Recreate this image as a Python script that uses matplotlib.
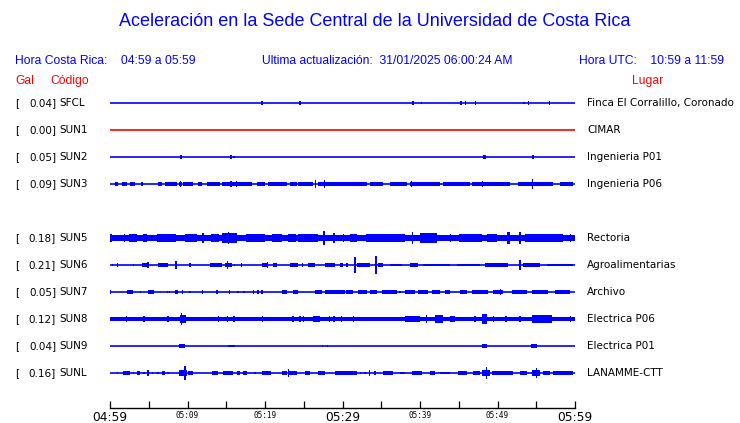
import matplotlib
matplotlib.use("Agg")
import matplotlib.pyplot as plt

# estaciones (fila 4 vacia, no hay SUN4)
codigos = ["SFCL", "SUN1", "SUN2", "SUN3", None, "SUN5", "SUN6", "SUN7", "SUN8", "SUN9", "SUNL"]
gal = [0.04, 0.00, 0.05, 0.09, None, 0.18, 0.21, 0.05, 0.12, 0.04, 0.16]
lugares = ["Finca El Corralillo, Coronado", "CIMAR", "Ingenieria P01", "Ingenieria P06", None,
           "Rectoria", "Agroalimentarias", "Archivo", "Electrica P06", "Electrica P01", "LANAMME-CTT"]

# amplitud de fondo de cada traza
fondo = [0, 0, 0, 0, None, 2.6, 0, 0, 1.9, 0, 0]

# rafagas: (minuto inicio, minuto fin, amplitud)
rafagas = {
    "SFCL": [(19.6, 19.6, 1.5), (24.5, 24.5, 2), (39.0, 39.2, 1.5), (40.2, 40.2, 1), (45.3, 45.3, 2),
             (45.9, 45.9, 1.5), (47.2, 47.2, 1.5), (53.4, 53.4, 1), (54.0, 54.0, 1.5), (56.6, 56.8, 1.5)],
    "SUN1": [],
    "SUN2": [(9.0, 9.3, 1.5), (15.6, 15.6, 1.5), (16.0, 16.0, 1), (48.1, 48.5, 2), (54.5, 54.7, 1.5)],
    "SUN3": [(0.6, 1.0, 1.5), (1.6, 2.2, 1.5), (2.6, 3.2, 1.5), (4.0, 4.3, 1.5), (6.2, 6.7, 1.5),
             (7.1, 8.6, 1.5), (8.9, 9.3, 2), (9.1, 9.1, 3), (9.4, 10.7, 1.5), (11.4, 11.9, 1.5),
             (12.5, 14.2, 1.5), (14.5, 18.3, 2), (15.6, 15.6, 3), (16.3, 16.3, 3), (19.0, 20.0, 1.5),
             (20.4, 22.8, 1.5), (23.2, 24.1, 1.5), (24.3, 26.2, 1.5), (26.5, 26.5, 3.5),
             (26.8, 29.7, 1.5), (27.7, 27.7, 3.5), (30.1, 30.1, 1.5), (29.7, 33.2, 1.7),
             (33.5, 35.2, 1.5), (36.1, 38.3, 1.5), (38.7, 42.6, 1.7), (38.9, 38.9, 2.5),
             (43.0, 46.5, 1.7), (46.7, 51.6, 1.7), (48.1, 48.1, 3), (52.6, 57.2, 1.7),
             (54.5, 54.5, 4.5), (58.1, 59.8, 1.5)],
    "SUN5": [(0.0, 0.3, 4), (1.9, 1.9, 4), (4.3, 4.8, 4), (9.7, 11.2, 4), (12.0, 12.0, 4.5),
             (14.5, 16.4, 4.5), (15.3, 15.3, 5), (20.9, 22.2, 4), (24.3, 26.8, 4), (27.6, 27.6, 6.5),
             (28.9, 28.9, 4.5), (30.1, 30.1, 3.5), (31.0, 31.9, 4), (39.0, 39.0, 5.5),
             (40.0, 42.2, 4.5), (43.9, 43.9, 4), (48.6, 49.9, 4), (51.2, 51.6, 5), (52.9, 52.9, 5),
             (59.4, 59.4, 4), (2.5, 3.5, 3.3), (6.0, 8.5, 3.3), (13.0, 14.0, 3.3), (17.5, 20.0, 3.3),
             (23.0, 24.0, 3.3), (33.0, 38.0, 3.3), (45.0, 48.0, 3.3), (53.5, 58.5, 3.3)],
    "SUN6": [(0.3, 0.3, 1), (0.9, 1.0, 1.5), (3.0, 3.0, 1), (4.1, 4.8, 1.5), (4.9, 4.9, 3),
             (6.2, 7.5, 1.5), (8.5, 8.5, 3.2), (10.3, 10.3, 1.5), (12.9, 14.5, 1.5), (14.8, 15.7, 2),
             (15.2, 15.2, 3.3), (16.1, 16.1, 1), (17.0, 17.0, 1.5), (19.6, 20.4, 1.5), (20.3, 20.3, 2.5),
             (21.0, 21.5, 1.5), (23.2, 24.3, 1.5), (24.8, 24.8, 1.5), (25.5, 26.5, 1.5),
             (27.7, 29.0, 1.5), (29.7, 30.1, 1.5), (30.6, 30.6, 1.5), (31.6, 31.6, 6.8),
             (31.9, 33.5, 1.5), (34.3, 34.3, 8), (34.6, 35.2, 1.5), (36.1, 37.7, 1),
             (38.7, 39.7, 1.5), (40.4, 43.9, 1), (44.8, 47.7, 1), (48.4, 51.4, 1.5),
             (52.9, 52.9, 4.5), (53.3, 55.5, 1.5), (56.4, 59.7, 1)],
    "SUN7": [(0.1, 0.1, 1.5), (2.2, 3.0, 1.5), (3.9, 3.9, 1), (4.9, 5.7, 1.5), (7.4, 7.4, 1),
             (7.7, 7.7, 1), (8.4, 8.8, 1.5), (9.3, 9.4, 1.5), (10.3, 10.3, 1), (11.9, 11.9, 1.5),
             (13.8, 13.8, 1.5), (15.4, 15.4, 1.5), (16.5, 16.5, 1), (17.3, 17.3, 1), (18.5, 18.5, 1.5),
             (19.1, 19.1, 1.5), (19.6, 19.6, 1.5), (22.2, 22.8, 1.5), (23.6, 24.3, 1.5),
             (26.5, 27.4, 1.5), (27.7, 30.3, 1.5), (30.5, 31.4, 1.5), (32.0, 33.2, 1.5),
             (33.5, 34.5, 1.5), (35.1, 37.0, 1.5), (37.4, 37.4, 1), (38.1, 39.4, 1.5),
             (39.7, 41.0, 1.5), (41.5, 42.6, 1.5), (43.2, 43.9, 1.5), (45.2, 46.1, 1.5),
             (46.7, 48.8, 1.5), (49.4, 50.7, 1.5), (50.4, 50.4, 2.5), (51.9, 53.8, 1.5),
             (54.5, 56.5, 1.5), (57.4, 59.4, 1.5)],
    "SUN8": [(2.1, 2.1, 3), (4.4, 4.4, 2.5), (7.5, 7.5, 3), (9.0, 9.8, 4), (9.2, 9.2, 5),
             (14.0, 14.0, 2.5), (15.2, 15.2, 3), (16.0, 16.0, 2.5), (19.7, 19.7, 2.5),
             (23.6, 23.6, 2.5), (24.5, 24.5, 3), (25.0, 25.0, 2.5), (26.2, 27.1, 3), (28.3, 28.3, 3),
             (28.9, 28.9, 3), (29.9, 29.9, 2.5), (31.4, 31.4, 2.5), (38.1, 40.0, 3), (40.8, 40.8, 3.5),
             (41.9, 43.0, 3.5), (43.9, 44.5, 3), (47.1, 47.1, 2.5), (48.0, 48.6, 4.5),
             (49.5, 49.5, 3), (51.1, 51.1, 3), (52.9, 52.9, 3), (54.5, 57.0, 3.5), (54.6, 54.6, 4),
             (59.4, 59.4, 2.5)],
    "SUN9": [(8.9, 9.7, 1.5), (15.2, 16.1, 1), (27.4, 27.4, 1), (28.1, 28.1, 1),
             (48.0, 48.6, 1.5), (54.3, 55.1, 1.5)],
    "SUNL": [(1.0, 1.0, 1), (1.7, 2.6, 1.5), (3.0, 3.0, 1), (3.5, 3.9, 1.5), (4.4, 4.4, 1),
             (4.9, 4.9, 2.5), (5.5, 5.5, 1), (6.2, 6.2, 1), (6.7, 7.1, 1.5), (7.5, 7.5, 1),
             (8.9, 9.9, 3), (9.7, 9.7, 6.5), (10.1, 10.7, 1.5), (13.2, 13.9, 1.5), (14.6, 15.9, 1.5),
             (16.4, 16.8, 1.5), (17.2, 17.7, 1.5), (18.7, 18.7, 1), (19.6, 20.8, 1.5),
             (22.2, 22.8, 1.5), (23.0, 23.0, 3.5), (23.0, 24.1, 2), (25.2, 25.8, 1.5),
             (26.8, 27.7, 1.5), (29.0, 30.3, 1.5), (29.7, 31.9, 1.5), (32.3, 32.3, 1),
             (32.9, 32.9, 1), (33.5, 33.5, 2.5), (34.2, 34.2, 1.5), (35.2, 36.5, 1.5),
             (37.4, 38.1, 1), (39.0, 40.3, 1.5), (41.3, 41.9, 1.5), (42.6, 43.9, 1),
             (44.9, 46.1, 1.5), (46.8, 47.7, 1.5), (48.0, 49.0, 2.5), (48.6, 48.6, 5.5),
             (49.3, 52.0, 1.5), (52.9, 53.8, 1.5), (54.5, 55.5, 2.5), (55.0, 55.0, 4.5),
             (55.9, 56.8, 1.5), (57.2, 59.7, 1.5)],
}

ticks = [0, 5, 10, 15, 20, 25, 30, 35, 40, 45, 50, 55, 60]
tick_labels = ["04:59", "", "05:09", "", "05:19", "", "05:29", "", "05:39", "", "05:49", "", "05:59"]
etiquetas_grandes = ["04:59", "05:29", "05:59"]

AZUL = "#0000ff"
ROJO = "#ff0000"
W, H = 740, 423
PX = 1.12 / 27.0   # amplitud -> unidades de fila

fig = plt.figure(figsize=(W / 100, H / 100), dpi=100)
fig.patch.set_facecolor("white")

def fx(px):
    return px / W

def fy(py):
    return 1 - py / H

# ejes de las trazas: x en minutos, y en filas
y_top, y_bot = 90, 408
ylo = (y_bot - 103) / 27.0
ax = fig.add_axes([fx(110), fy(y_bot), fx(575) - fx(110), fy(y_top) - fy(y_bot)])
ax.set_xlim(0, 60)
ax.set_ylim(ylo, (y_top - 103) / 27.0)
for s in ["top", "left", "right"]:
    ax.spines[s].set_visible(False)
ax.spines["bottom"].set_linewidth(1.0)
ax.set_yticks([])
ax.set_xticks(ticks)
ax.set_xticklabels(tick_labels)
ax.tick_params(axis="x", direction="out", length=0, pad=2)
for lab in ax.get_xticklabels():
    if lab.get_text() in etiquetas_grandes:
        lab.set_fontfamily("DejaVu Sans")
        lab.set_fontsize(8.8)
    else:
        lab.set_fontfamily("DejaVu Sans Mono")
        lab.set_fontsize(5.5)
# ticks hacia arriba desde la linea
ax.vlines(ticks, ylo, ylo - 7.5 / 27.0, color="black", lw=0.9, clip_on=False)

for i, cod in enumerate(codigos):
    if cod is None:
        continue
    color = ROJO if cod == "SUN1" else AZUL
    ax.hlines(i, 0, 60, color=color, lw=1.2)
    if fondo[i]:
        ax.bar(30, 2 * fondo[i] * PX, width=60, bottom=i - fondo[i] * PX, color=color, lw=0)
    for t0, t1, a in rafagas[cod]:
        w = max(t1 - t0, 0.18)
        ax.bar((t0 + t1) / 2, 2 * a * PX, width=w, bottom=i - a * PX, color=color, lw=0)

    ypx = 103 + 27 * i
    fig.text(fx(15), fy(ypx), "[", fontsize=7.5, va="center", ha="left", family="DejaVu Sans")
    fig.text(fx(56), fy(ypx), "%.2f]" % gal[i], fontsize=7.5, va="center", ha="right", family="DejaVu Sans")
    fig.text(fx(59), fy(ypx), cod, fontsize=7.5, va="center", ha="left", family="DejaVu Sans")
    fig.text(fx(587), fy(ypx), lugares[i], fontsize=7.5, va="center", ha="left", family="DejaVu Sans")

# encabezados
fig.text(fx(375), fy(22), "Aceleración en la Sede Central de la Universidad de Costa Rica",
         color=AZUL, fontsize=13, ha="center", va="center", family="Liberation Sans")
fig.text(fx(15), fy(61), "Hora Costa Rica:    04:59 a 05:59", color=AZUL, fontsize=8.7,
         ha="left", va="center", family="Liberation Sans")
fig.text(fx(387), fy(61), "Ultima actualización:  31/01/2025 06:00:24 AM", color=AZUL, fontsize=8.7,
         ha="center", va="center", family="Liberation Sans")
fig.text(fx(724), fy(61), "Hora UTC:    10:59 a 11:59", color=AZUL, fontsize=8.7,
         ha="right", va="center", family="Liberation Sans")
fig.text(fx(15), fy(81), "Gal", color=ROJO, fontsize=8.7, ha="left", va="center", family="Liberation Sans")
fig.text(fx(50), fy(81), "Código", color=ROJO, fontsize=8.7, ha="left", va="center", family="Liberation Sans")
fig.text(fx(663), fy(81), "Lugar", color=ROJO, fontsize=8.7, ha="right", va="center", family="Liberation Sans")

fig.savefig("out.png", dpi=100)
